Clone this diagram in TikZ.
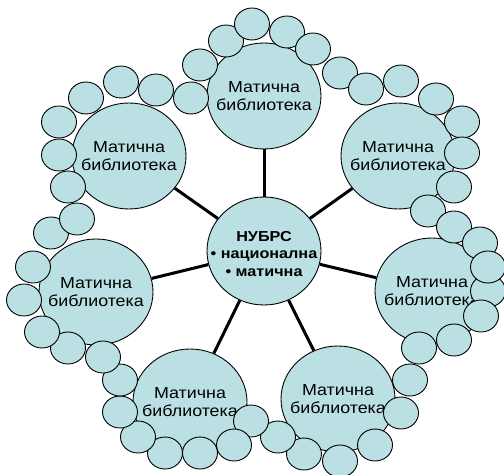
\documentclass[tikz,border=0pt]{standalone}
\usepackage{fontspec}
\setmainfont[FakeStretch=1.12]{Liberation Sans}
\usetikzlibrary{shapes.geometric}
\definecolor{libfill}{RGB}{187,224,227}
\tikzset{
  disc/.style={ellipse, draw, line width=0.9bp, fill=libfill, inner sep=0pt},
  lib/.style={disc, minimum width=114bp, minimum height=106bp,
    label={[libtext]center:#1}},
  libtext/.style={align=center, inner sep=0pt, font=\fontsize{16}{18}\selectfont},
  hubtext/.style={align=center, inner sep=0pt, yshift=-3bp,
    font=\fontsize{14.5}{17.8}\selectfont\bfseries},
  bead/.style={disc, minimum width=35bp, minimum height=32bp},
  spoke/.style={line width=3bp}
}
\begin{document}
\begin{tikzpicture}[x=1bp,y=-1bp]
      \useasboundingbox (0,0) rectangle (504,475);
      \draw
        (264,251) node[disc, minimum width=114bp, minimum height=108bp,
          label={[hubtext]center:НУБРС\\• национална\\• матична}] (c){}
        (264,96) node[lib={Матична\\библиотека}] (m1){}
        (398,156) node[lib={Матична\\библиотека}] (m2){}
        (432,291) node[lib={Матична\\библиотека}] (m3){}
        (338,399) node[lib={Матична\\библиотека}] (m4){}
        (190,402) node[lib={Матична\\библиотека}] (m5){}
        (96,292) node[lib={Матична\\библиотека}] (m6){}
        (129,156) node[lib={Матична\\библиотека}] (m7){};
      \begin{scope}[spoke]
        \draw (c) to (m1);
        \draw (c) to (m2);
        \draw (c) to (m3);
        \draw (c) to (m4);
        \draw (c) to (m5);
        \draw (c) to (m6);
        \draw (c) to (m7);
      \end{scope}
      \draw
        (51,233) node[bead] (s1){}
        (77,219) node[bead] (s2){}
        (68,187) node[bead] (s3){}
        (59,155) node[bead] (s4){}
        (59,122) node[bead] (s5){}
        (86,98) node[bead] (s6){}
        (121,82) node[bead] (s7){}
        (156,90) node[bead] (s8){}
        (191,98) node[bead] (s9){}
        (200,65) node[bead] (s10){}
        (226,41) node[bead] (s11){}
        (252,24) node[bead] (s12){}
        (287,32) node[bead] (s13){}
        (313,49) node[bead] (s14){}
        (340,73) node[bead] (s15){}
        (366,89) node[bead] (s16){}
        (401,81) node[bead] (s17){}
        (436,99) node[bead] (s18){}
        (462,122) node[bead] (s19){}
        (462,153) node[bead] (s20){}
        (454,187) node[bead] (s21){}
        (428,211) node[bead] (s22){}
        (454,227) node[bead] (s23){}
        (480,243) node[bead] (s24){}
        (488,291) node[bead] (s25){}
        (488,267) node[bead] (s26){}
        (481,316) node[bead] (s27){}
        (454,340) node[bead] (s28){}
        (419,348) node[bead] (s29){}
        (410,380) node[bead] (s30){}
        (401,413) node[bead] (s31){}
        (375,445) node[bead] (s32){}
        (340,461) node[bead] (s33){}
        (304,454) node[bead] (s34){}
        (278,437) node[bead] (s35){}
        (251,421) node[bead] (s36){}
        (234,445) node[bead] (s37){}
        (200,453) node[bead] (s38){}
        (165,453) node[bead] (s39){}
        (138,437) node[bead] (s40){}
        (120,412) node[bead] (s41){}
        (120,380) node[bead] (s42){}
        (103,357) node[bead] (s43){}
        (68,348) node[bead] (s44){}
        (42,332) node[bead] (s45){}
        (24,300) node[bead] (s46){}
        (33,267) node[bead] (s47){};
    \end{tikzpicture}
\end{document}
